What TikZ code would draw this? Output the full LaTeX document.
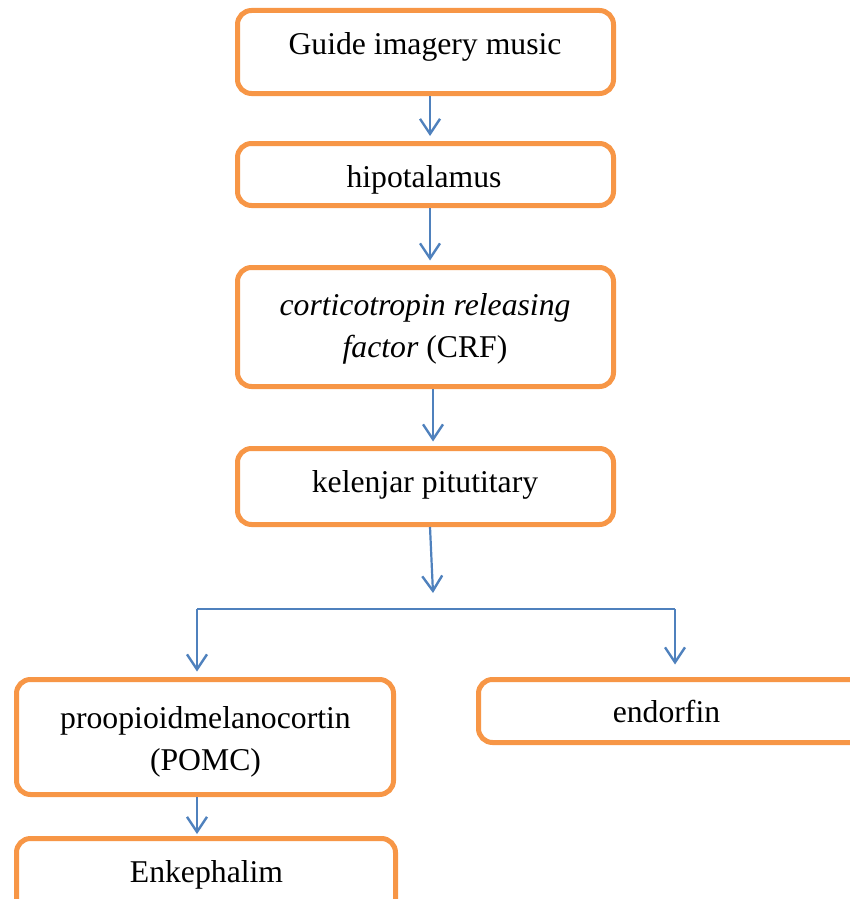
\documentclass[tikz,border=0pt]{standalone}
\usepackage{fontspec}
\setmainfont{Liberation Serif}
\usetikzlibrary{arrows.meta}
\definecolor{boxorange}{HTML}{F79646}
\definecolor{arrowblue}{HTML}{4F81BD}
\tikzset{
  flowbox/.style={draw=boxorange, line width=5pt, rounded corners=14pt, fill=white, inner sep=0pt},
  txt/.style={inner sep=0pt, font=\fontsize{31.7}{42}\selectfont, text=black},
  conn/.style={draw=arrowblue, line width=2.2pt},
  flowarrow/.style={conn, -{Straight Barb[length=15pt, width=20pt, line width=2.4pt]}}
}
\begin{document}
\begin{tikzpicture}[x=1pt, y=-1pt]
\useasboundingbox (0,0) rectangle (849,899);
% boxes
\node[flowbox, minimum width=376pt, minimum height=83pt] (b1) at (425.5,52) {};
\node[flowbox, minimum width=376pt, minimum height=62pt] (b2) at (425.5,174.5) {};
\node[flowbox, minimum width=376pt, minimum height=119pt] (b3) at (425.5,327) {};
\node[flowbox, minimum width=376pt, minimum height=76pt] (b4) at (425.5,486.5) {};
\node[flowbox, minimum width=377pt, minimum height=115pt] (b5) at (205,737) {};
\node[flowbox, minimum width=392pt, minimum height=63pt] (b6) at (674.5,711) {};
\node[flowbox, minimum width=379pt, minimum height=92pt] (b7) at (206,884.5) {};
% texts
\node[txt, anchor=base] (t1) at (425,55) {Guide imagery music};
\node[txt, anchor=base] (t2) at (424,187) {hipotalamus};
\node[txt, anchor=north, align=center] (t3) at (425,293.5) {\textit{corticotropin releasing}\\\textit{factor} (CRF)};
\node[txt, anchor=north, align=center] (t5) at (205.5,706) {proopioidmelanocortin\\(POMC)};
\node[txt, anchor=base] (t4) at (425,492) {kelenjar pitutitary};
\node[txt, anchor=base] (t6) at (666.5,722) {endorfin};
\node[txt, anchor=base] (t7) at (206.5,882) {Enkephalim};
% connectors
\coordinate (split) at (433,593);
\coordinate (hl) at (197,609);
\coordinate (hr) at (675,609);
\draw[flowarrow, shorten >=5pt] ([xshift=4.5pt]b1.south) -- ([xshift=4.5pt]b2.north);
\draw[flowarrow, shorten >=4.5pt] ([xshift=4.5pt]b2.south) -- ([xshift=4.5pt]b3.north);
\draw[flowarrow, shorten >=4.5pt] ([xshift=7.5pt]b3.south) -- ([xshift=7.5pt]b4.north);
\draw[flowarrow] ([xshift=4.5pt]b4.south) -- (split);
\draw[conn] (hl) -- (hr);
\draw[flowarrow, shorten >=5.5pt] (hl) -- (hl |- b5.north);
\draw[flowarrow, shorten >=12.5pt] (hr) -- (hr |- b6.north);
\draw[flowarrow, shorten >=2pt] ([xshift=-8pt]b5.south) -- ([xshift=-9pt]b7.north);
\end{tikzpicture}
\end{document}
